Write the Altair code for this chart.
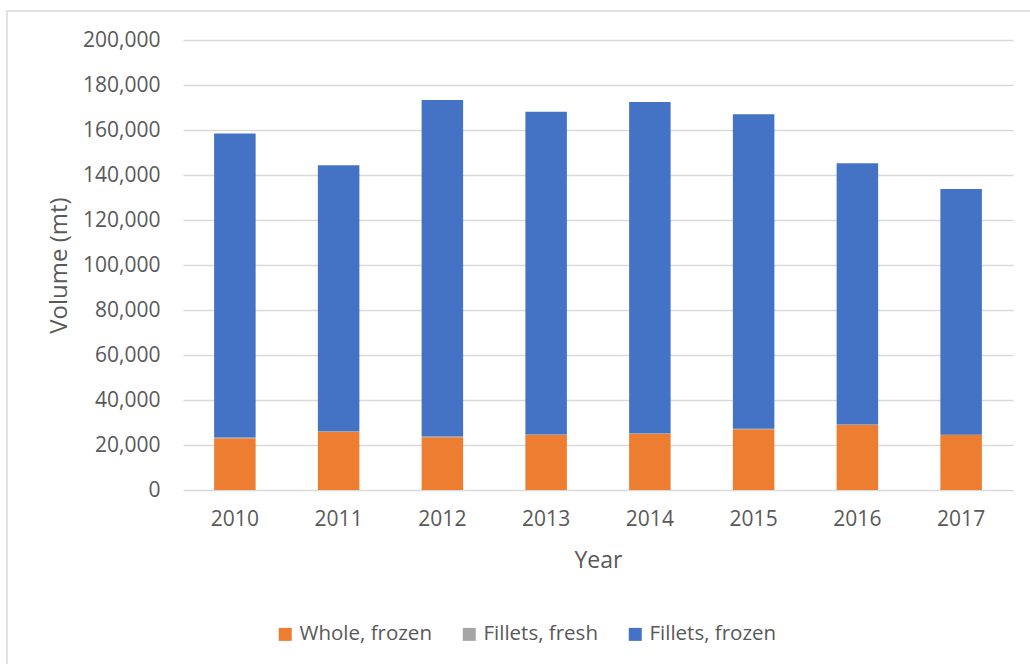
import altair as alt
import pandas as pd

# Annual volumes (metric tons) by product form
years = ["2010", "2011", "2012", "2013", "2014", "2015", "2016", "2017"]
whole_frozen = [23000, 25800, 23400, 24400, 24900, 27000, 28900, 24400]
fillets_fresh = [350, 300, 400, 280, 320, 260, 240, 210]
fillets_frozen = [135150, 118200, 149500, 143420, 147180, 139740, 116060, 109190]

series_names = ["Whole, frozen", "Fillets, fresh", "Fillets, frozen"]
series_colors = ["#ED7D31", "#A5A5A5", "#4472C4"]
y_ticks = list(range(0, 200001, 20000))

rows = []
for i, yr in enumerate(years):
    for k, (name, vals) in enumerate(zip(series_names, [whole_frozen, fillets_fresh, fillets_frozen])):
        rows.append({"Year": yr, "Product": name, "Volume": vals[i], "order": k})
df = pd.DataFrame(rows)

FONT = "Open Sans"
TXT = "#595959"

bars = alt.Chart(df).mark_bar().encode(
    x=alt.X(
        "Year:N",
        sort=years,
        scale=alt.Scale(paddingInner=0.6, paddingOuter=0.3),
        axis=alt.Axis(
            title="Year",
            domain=False,
            ticks=False,
            labelAngle=0,
            labelPadding=18,
            labelFontSize=21,
            labelColor=TXT,
            labelFont=FONT,
            titleFontSize=23,
            titleFont=FONT,
            titleColor=TXT,
            titleFontWeight="normal",
            titleY=70,
            titleBaseline="middle",
        ),
    ),
    y=alt.Y(
        "Volume:Q",
        stack="zero",
        scale=alt.Scale(domain=[0, 200000], nice=False),
        axis=alt.Axis(
            title="Volume (mt)",
            values=y_ticks,
            format=",d",
            domain=False,
            ticks=False,
            labelPadding=23,
            labelFontSize=21,
            labelColor=TXT,
            labelFont=FONT,
            gridColor="#d9d9d9",
            gridWidth=1.3,
            titleFontSize=24,
            titleFont=FONT,
            titleColor=TXT,
            titleFontWeight="normal",
            titleAngle=270,
            titleX=-124,
            titleY=225,
            titleAlign="center",
            titleBaseline="middle",
        ),
    ),
    color=alt.Color(
        "Product:N",
        sort=series_names,
        scale=alt.Scale(domain=series_names, range=series_colors),
        legend=alt.Legend(
            title=None,
            orient="none",
            direction="horizontal",
            legendX=92,
            legendY=584,
            symbolType="square",
            symbolSize=169,
            symbolStrokeWidth=0,
            labelFontSize=20.5,
            labelFont=FONT,
            labelColor=TXT,
            labelOffset=4,
            columnPadding=27,
        ),
    ),
    order=alt.Order("order:Q", sort="ascending"),
)

# light frame around the whole chart area
frame = alt.Chart(alt.Data(values=[{}])).mark_rect(
    fill=None, stroke="#d9d9d9", strokeWidth=1.5, clip=False
).encode(
    x=alt.value(-176),
    x2=alt.value(852),
    y=alt.value(-29),
    y2=alt.value(629),
)

chart = alt.layer(frame, bars).properties(
    width=830,
    height=450,
    autosize=alt.AutoSizeParams(type="none"),
    padding={"left": 183, "top": 40, "right": 17, "bottom": 174},
    background="white",
).configure_view(stroke=None)

chart.save("out.html", embed_options={"renderer": "svg", "actions": False})
